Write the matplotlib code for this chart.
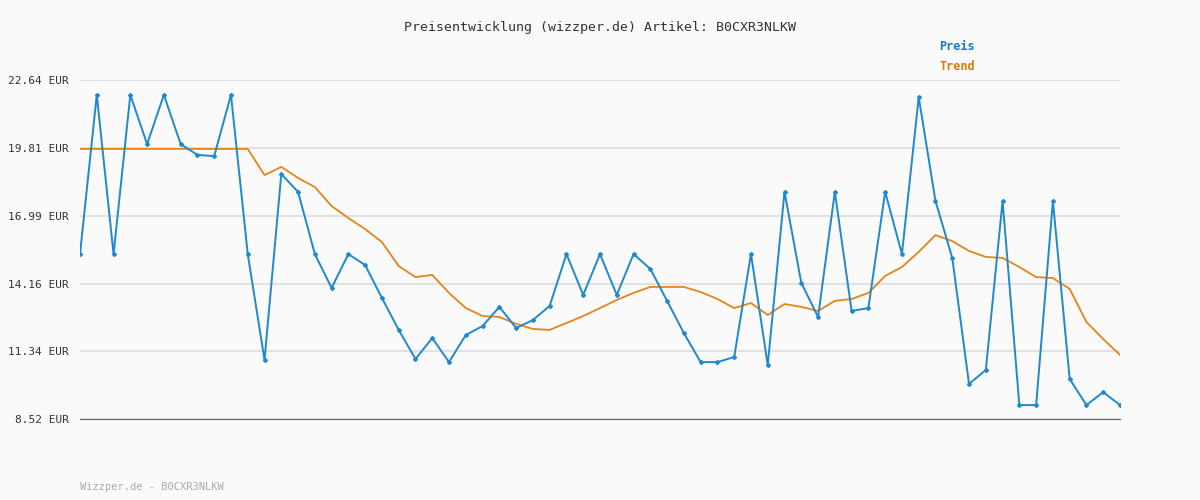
import matplotlib
matplotlib.use('Agg')
from matplotlib import pyplot as plt
import numpy as np

TITLE = 'Preisentwicklung (wizzper.de) Artikel: B0CXR3NLKW'
FOOTER = 'Wizzper.de - B0CXR3NLKW'
YTICKS = [8.52, 11.34, 14.16, 16.99, 19.81, 22.64]

preis = [15.39, 22.02, 15.39, 22.02, 19.97, 22.02, 19.97, 19.52, 19.47, 22.02,
         15.39, 10.98, 18.72, 17.98, 15.39, 13.98, 15.39, 14.93, 13.56, 12.23,
         11.02, 11.89, 10.89, 12.02, 12.39, 13.19, 12.31, 12.64, 13.23, 15.39,
         13.69, 15.39, 13.69, 15.39, 14.77, 13.44, 12.10, 10.89, 10.89, 11.10,
         15.39, 10.77, 17.98, 14.19, 12.77, 17.98, 13.02, 13.14, 17.98, 15.39,
         21.93, 17.60, 15.23, 9.98, 10.56, 17.60, 9.10, 9.10, 17.60, 10.19,
         9.10, 9.64, 9.10]
trend = [19.77] * 11 + [
         18.68, 19.02, 18.56, 18.18, 17.39, 16.89, 16.43, 15.89, 14.89, 14.43,
         14.52, 13.77, 13.14, 12.81, 12.77, 12.48, 12.27, 12.23, 12.52, 12.81,
         13.14, 13.48, 13.77, 14.02, 14.02, 14.02, 13.81, 13.52, 13.14, 13.35,
         12.85, 13.31, 13.19, 13.02, 13.44, 13.52, 13.77, 14.48, 14.85, 15.48,
         16.18, 15.93, 15.52, 15.27, 15.23, 14.85, 14.43, 14.39, 13.94, 12.56,
         11.85, 11.19]

BLUE = '#1f88d0'
ORANGE = '#e8831a'
MONO = 'DejaVu Sans Mono'

fig = plt.figure(figsize=(12, 5), dpi=100, facecolor='#fafafa')
ax = fig.add_axes([80/1200, 1 - 419/500, 1040/1200, 339/500], facecolor='#fafafa')

x = np.arange(len(preis))
ax.plot(x, preis, color=BLUE, lw=1.4, marker='D', ms=2, zorder=3)
ax.plot(x, trend, color=ORANGE, lw=1.3, zorder=2)

ax.set_xlim(0, len(preis) - 1)
ax.set_ylim(YTICKS[0], YTICKS[-1])
ax.set_yticks(YTICKS)
ax.set_yticklabels(['%.2f EUR' % v for v in YTICKS], family=MONO, fontsize=8, color='#333333')
ax.set_xticks([])
ax.grid(axis='y', color='#dddddd', lw=1.2)
for s in ['top', 'right', 'left']:
  ax.spines[s].set_visible(False)
ax.spines['bottom'].set_color('#666666')
ax.tick_params(axis='y', length=0, pad=8)

fig.text(0.5, 1 - 28/500, TITLE, ha='center', va='center', family=MONO, fontsize=9.5, color='#333333')
fig.text(957/1200, 1 - 47/500, 'Preis', ha='center', va='center', family=MONO,
         fontsize=8.5, color='#1a78c2', weight='bold')
fig.text(957/1200, 1 - 67/500, 'Trend', ha='center', va='center', family=MONO,
         fontsize=8.5, color='#d9780f', weight='bold')
fig.text(80/1200, 1 - 487/500, FOOTER, ha='left', va='center', family=MONO,
         fontsize=7.5, color='#aaaaaa')

fig.savefig('out.png', dpi=100, facecolor=fig.get_facecolor())
